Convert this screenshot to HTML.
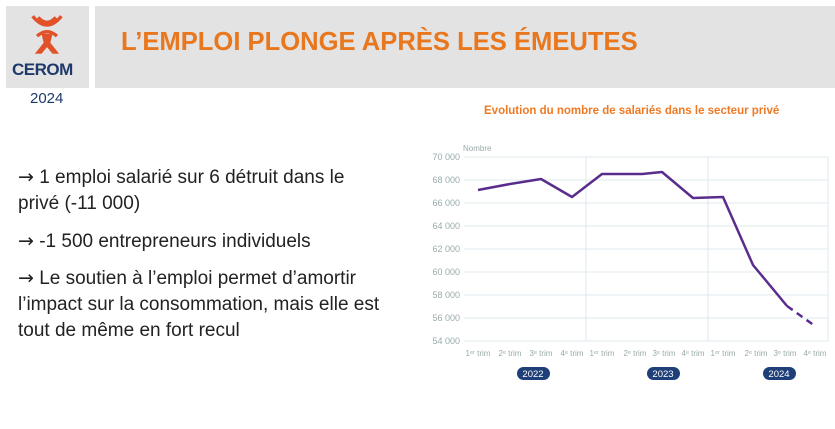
<!DOCTYPE html><html><head><meta charset="utf-8"><style>
body{margin:0;width:835px;height:429px;background:#fff;font-family:"Liberation Sans",sans-serif;position:relative;overflow:hidden}
.box{position:absolute;background:#e3e3e3}
.t{position:absolute;white-space:nowrap}
.b{position:absolute;left:18px;font-size:19px;color:#222;line-height:26px}
.a{font-family:"DejaVu Sans",sans-serif;font-size:19px}
</style></head><body>
<div class="box" style="left:6px;top:6px;width:83px;height:82px"></div>
<div class="box" style="left:95px;top:6px;width:740px;height:82px"></div>
<svg style="position:absolute;left:28px;top:14px" width="38" height="42" viewBox="0 0 34 38">
<g fill="none" stroke="#e2522a" stroke-width="3"><path d="M4 2 Q17 18 30 2"/><path d="M9 3 Q17 12 25 3"/><path d="M8 20 Q17 12 26 20"/></g>
<path d="M12 18 L22 18 L20 26 L28 36 L22 36 L17 30 L12 36 L6 36 L14 26Z" fill="#e2522a"/></svg>
<div class="t" style="left:12px;top:60px;font-size:17px;font-weight:bold;color:#1e3a6b;letter-spacing:-0.5px">CEROM</div>
<div class="t" style="left:30px;top:90px;font-size:15px;color:#1e3a6b">2024</div>
<div class="t" style="left:121px;top:28px;font-size:25.6px;font-weight:bold;color:#e8771e">L’EMPLOI PLONGE APRÈS LES ÉMEUTES</div>
<div class="b" style="top:164px"><span class="a">→</span> 1 emploi salarié sur 6 détruit dans le<br>privé (-11 000)</div>
<div class="b" style="top:228px"><span class="a">→</span> -1 500 entrepreneurs individuels</div>
<div class="b" style="top:265px"><span class="a">→</span> Le soutien à l’emploi permet d’amortir<br>l’impact sur la consommation, mais elle est<br>tout de même en fort recul</div>
<div class="t" style="left:484px;top:105px;font-size:11.5px;font-weight:bold;color:#f07a24">Evolution du nombre de salariés dans le secteur privé</div>
<svg style="position:absolute;left:0;top:0" width="835" height="429" font-family="Liberation Sans" font-size="9" fill="#9aa">
<text x="463" y="151" font-size="8">Nombre</text>
<g stroke="#dfe8ec" stroke-width="1">
<line x1="464" y1="157" x2="828" y2="157"/><line x1="464" y1="180" x2="828" y2="180"/><line x1="464" y1="203" x2="828" y2="203"/><line x1="464" y1="226" x2="828" y2="226"/><line x1="464" y1="249" x2="828" y2="249"/><line x1="464" y1="272" x2="828" y2="272"/><line x1="464" y1="295" x2="828" y2="295"/><line x1="464" y1="318" x2="828" y2="318"/><line x1="464" y1="341" x2="828" y2="341"/>
<line x1="586" y1="157" x2="586" y2="341"/><line x1="708" y1="157" x2="708" y2="341"/><line x1="828" y1="157" x2="828" y2="341"/>
</g>
<g text-anchor="end"><text x="460" y="160">70 000</text><text x="460" y="183">68 000</text><text x="460" y="206">66 000</text><text x="460" y="229">64 000</text><text x="460" y="252">62 000</text><text x="460" y="275">60 000</text><text x="460" y="298">58 000</text><text x="460" y="321">56 000</text><text x="460" y="344">54 000</text></g>
<g font-size="8" text-anchor="middle"><text x="478" y="356">1ᵉʳ trim</text><text x="510" y="356">2ᵉ trim</text><text x="541" y="356">3ᵉ trim</text><text x="572" y="356">4ᵉ trim</text><text x="602" y="356">1ᵉʳ trim</text><text x="635" y="356">2ᵉ trim</text><text x="664" y="356">3ᵉ trim</text><text x="693" y="356">4ᵉ trim</text><text x="723" y="356">1ᵉʳ trim</text><text x="756" y="356">2ᵉ trim</text><text x="785" y="356">3ᵉ trim</text><text x="815" y="356">4ᵉ trim</text></g>
<g fill="#1f3f78"><rect x="517" y="367" width="33" height="13" rx="6.5"/><rect x="647" y="367" width="33" height="13" rx="6.5"/><rect x="763" y="367" width="33" height="13" rx="6.5"/></g>
<g fill="#fff" font-size="9.5" text-anchor="middle"><text x="533" y="377">2022</text><text x="663" y="377">2023</text><text x="779" y="377">2024</text></g>
<polyline fill="none" stroke="#5a2d8c" stroke-width="2.5" stroke-linejoin="round" points="478,190 510,184 541,179 572,197 602,174 642,174 662,172 693,198 723,197 753,265 787,306"/>
<line x1="787" y1="306" x2="815" y2="326" stroke="#5a2d8c" stroke-width="2.5" stroke-dasharray="7,5"/>
</svg>
</body></html>
